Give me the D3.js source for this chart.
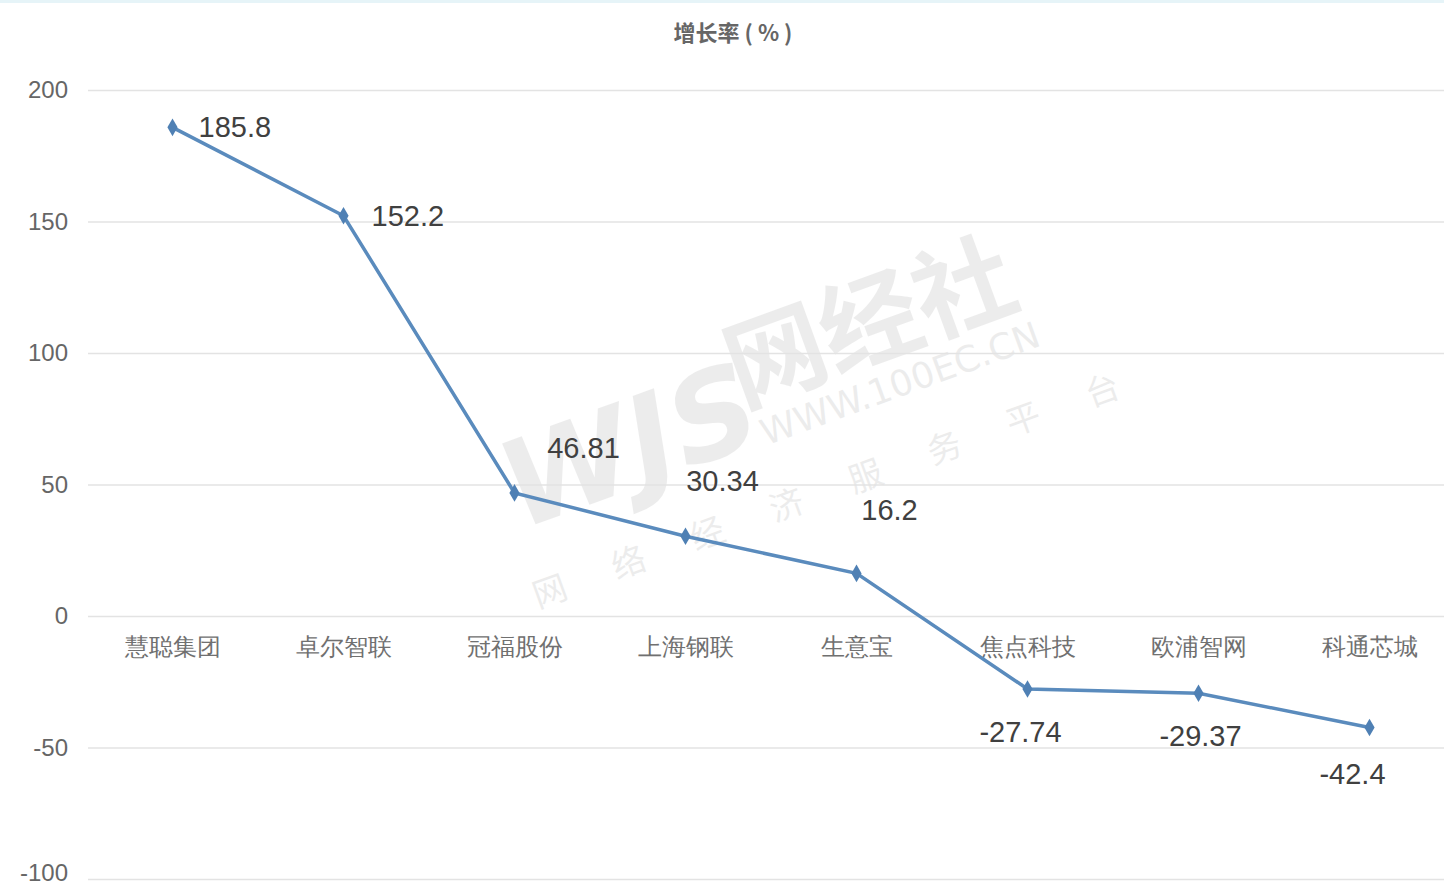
<!DOCTYPE html>
<html>
<head>
<meta charset="utf-8">
<script src="https://cdn.jsdelivr.net/npm/d3@7"></script>
<style>
  body { margin: 0; background: #fff; }
  svg { font-family: "Noto Sans CJK SC", "Noto Sans", sans-serif; }
</style>
</head>
<body>
<svg id="chart" width="1444" height="890"></svg>
<script>
let companies = ["慧聪集团", "卓尔智联", "冠福股份", "上海钢联", "生意宝", "焦点科技", "欧浦智网", "科通芯城"]
let growth = [185.8, 152.2, 46.81, 30.34, 16.2, -27.74, -29.37, -42.4]
let yTicks = [200, 150, 100, 50, 0, -50, -100]

// value label nudges (px) from each point, as placed in the original
let labelDx = [26, 28, 69, 37, 33, -7, 2, -17]
let labelDy = [0, 0, -45, -55, -64, 43, 43, 46]
let labelAnchor = ["start", "start", "middle", "middle", "middle", "middle", "middle", "middle"]

let width = 1444
let height = 890
let svg = d3.select("#chart")

svg.append("rect")
    .attr("x", 0).attr("y", 0)
    .attr("width", width).attr("height", 3)
    .style("fill", "#e6f4f8")

let x = d3.scaleBand()
    .domain(companies)
    .range([87, 1455])

let y = d3.scaleLinear()
    .domain([-100, 200])
    .range([879, 90])

// watermark
let wm = svg.append("g")
    .attr("transform", "translate(760,400) rotate(-20)")
    .style("fill", "#000")
    .style("opacity", 0.07)
wm.append("text")
    .attr("x", -270).attr("y", 40)
    .style("font-size", "120px")
    .style("font-weight", "bold")
    .style("font-style", "italic")
    .style("font-family", "DejaVu Sans")
    .text("WJS")
wm.append("text")
    .attr("x", -20).attr("y", 0)
    .style("font-size", "100px")
    .style("font-weight", "bold")
    .text("网经社")
wm.append("text")
    .attr("x", -10).attr("y", 45)
    .style("font-size", "36px")
    .style("font-family", "DejaVu Sans")
    .text("WWW.100EC.CN")
wm.append("text")
    .attr("x", -280).attr("y", 120)
    .style("font-size", "34px")
    .style("letter-spacing", "50px")
    .text("网络经济服务平台")

let yAxis = d3.axisLeft(y)
    .tickValues(yTicks)
    .tickSize(-(width - 88))
    .tickPadding(20)
    .tickFormat(d => String(d))

let yAxisG = svg.append("g")
    .attr("class", "y axis")
    .attr("transform", "translate(88,0)")
    .call(yAxis)
yAxisG.select(".domain").remove()
yAxisG.selectAll(".tick line")
    .style("stroke", "#e3e3e3")
    .style("stroke-width", "1.5px")
yAxisG.selectAll(".tick text")
    .style("fill", "#666")
    .style("font-size", "24px")
    .style("font-family", "Liberation Sans")
    .attr("dy", d => d == -100 ? "0.05em" : "0.32em")

let xAxis = d3.axisBottom(x)
    .tickSize(0)
    .tickPadding(22)

let xAxisG = svg.append("g")
    .attr("class", "x axis")
    .attr("transform", `translate(0,${y(0)})`)
    .call(xAxis)
xAxisG.select(".domain").remove()
xAxisG.selectAll(".tick text")
    .style("fill", "#707070")
    .style("font-size", "24px")

let line = d3.line()
    .x((d, i) => x(companies[i]) + x.bandwidth() / 2)
    .y(d => y(d))

svg.append("path")
    .datum(growth)
    .attr("d", line)
    .style("fill", "none")
    .style("stroke", "#5a8bbd")
    .style("stroke-width", "3.5px")

svg.append("g")
    .selectAll("path")
    .data(growth)
    .join("path")
    .attr("d", d3.symbol().type(d3.symbolDiamond).size(90))
    .attr("transform", (d, i) => `translate(${x(companies[i]) + x.bandwidth() / 2},${y(d)})`)
    .style("fill", "#4f80b4")

svg.append("g")
    .selectAll("text")
    .data(growth)
    .join("text")
    .attr("x", (d, i) => x(companies[i]) + x.bandwidth() / 2 + labelDx[i])
    .attr("y", (d, i) => y(d) + labelDy[i])
    .attr("dy", "0.35em")
    .attr("text-anchor", (d, i) => labelAnchor[i])
    .style("fill", "#404040")
    .style("font-size", "29px")
    .style("font-family", "Liberation Sans")
    .text(d => d)

svg.append("text")
    .attr("x", 733)
    .attr("y", 33)
    .attr("dy", "0.35em")
    .attr("text-anchor", "middle")
    .style("fill", "#666")
    .style("font-size", "22px")
    .style("font-weight", "bold")
    .text("增长率 ( % )")
</script>
</body>
</html>
